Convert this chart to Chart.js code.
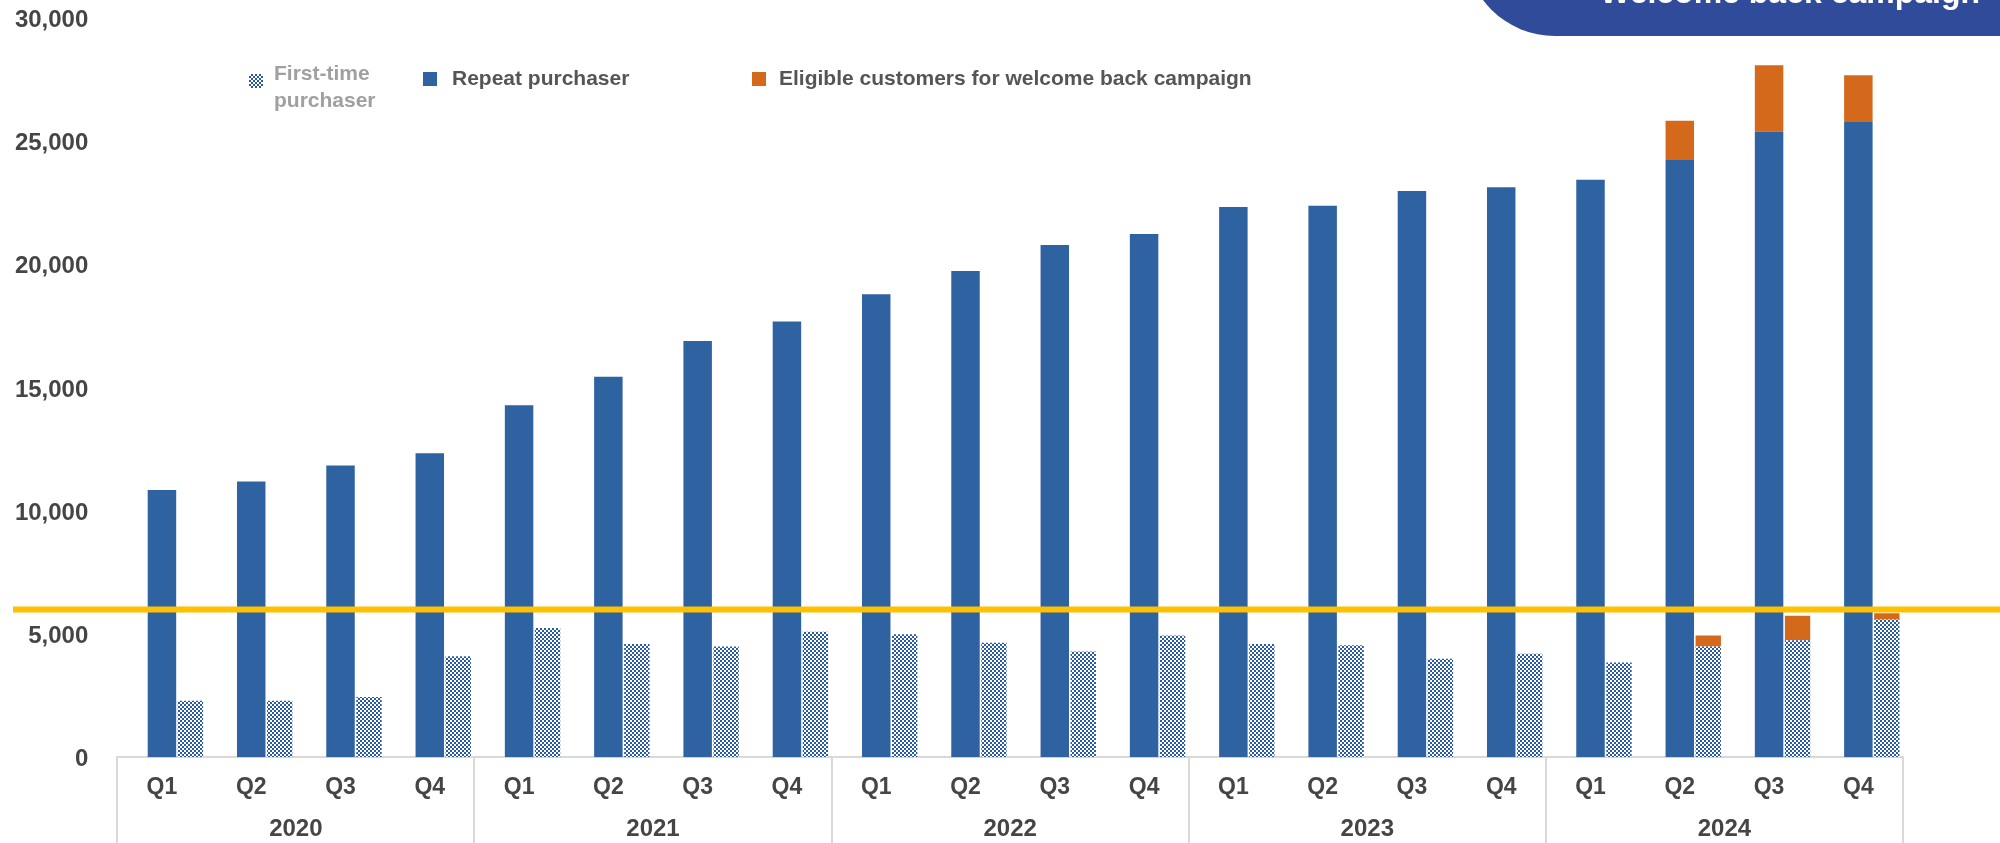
<!DOCTYPE html>
<html>
<head>
<meta charset="utf-8">
<title>Purchasers by quarter</title>
<script src="https://cdn.jsdelivr.net/npm/chart.js@4.4.1/dist/chart.umd.min.js"></script>
<style>
    body { margin: 0; background: #fff; }
    #wrap { position: relative; width: 2000px; height: 843px; overflow: hidden; font-family: "Liberation Sans", Arial, sans-serif; }
    #wrap canvas { position: absolute; left: 0; top: 0; }
    .badge { position: absolute; left: 1465px; top: -54px; width: 535px; height: 90px; background: #314b9b; border-bottom-left-radius: 90px; }
    .badge span { position: absolute; right: 20px; top: 30px; font-size: 32px; line-height: 1; font-weight: bold; color: #fff; white-space: nowrap; }
    .swatch { position: absolute; width: 14px; height: 14px; }
    .item { position: absolute; font-size: 21px; line-height: 24px; font-weight: bold; color: #555; white-space: nowrap; }
</style>
</head>
<body>
<div id="wrap">
    <canvas id="purchasers" width="2000" height="843"></canvas>
    <div class="badge"><span>Welcome back campaign</span></div>

    <div class="swatch" style="left:249px;top:74px;background:repeating-conic-gradient(#2a5aa5 0 25%, #fff 0 50%) 0 0/4px 4px;"></div>
    <div class="item" style="left:274px;top:59px;line-height:27px;color:#a0a0a0;">First-time<br>purchaser</div>

    <div class="swatch" style="left:423px;top:72px;background:#2e62a1;"></div>
    <div class="item" style="left:452px;top:66px;">Repeat purchaser</div>

    <div class="swatch" style="left:752px;top:72px;background:#d4691b;"></div>
    <div class="item" style="left:779px;top:66px;">Eligible customers for welcome back campaign</div>
</div>

<script>
const years = ['2020', '2021', '2022', '2023', '2024'];
const quarters = ['Q1', 'Q2', 'Q3', 'Q4'];

const repeatPurchasers = [10850, 11200, 11850, 12350, 14300, 15450, 16900, 17700, 18800, 19750,
                          20800, 21250, 22350, 22400, 23000, 23150, 23450, 24250, 25400, 25800];
const eligibleRepeat = [null, null, null, null, null, null, null, null, null, null,
                        null, null, null, null, null, null, null, 1600, 2700, 1900];

const firstTimePurchasers = [2300, 2300, 2450, 4100, 5250, 4600, 4500, 5100, 5000, 4650,
                             4300, 4950, 4600, 4550, 4000, 4200, 3850, 4500, 4750, 5600];
const eligibleFirstTime = [null, null, null, null, null, null, null, null, null, null,
                           null, null, null, null, null, null, null, 450, 1000, 250];

const targetLine = 6000;

const BLUE = '#2e62a1';
const ORANGE = '#d4691b';
const YELLOW = '#ffc000';
const AXIS_GREY = '#d9d9d9';
const LABEL_GREY = '#454545';

// one label per quarter, years go on the second axis
const labels = [];
years.forEach(y => quarters.forEach(q => labels.push(q)));

// small checkerboard fill for first-time purchasers
function checkerPattern() {
    const c = document.createElement('canvas');
    c.width = 4;
    c.height = 4;
    const g = c.getContext('2d');
    g.fillStyle = '#fff';
    g.fillRect(0, 0, 4, 4);
    g.fillStyle = '#2a5aa5';
    g.fillRect(0, 0, 2, 2);
    g.fillRect(2, 2, 2, 2);
    return g.createPattern(c, 'repeat');
}

// year boxes under the axis and the yellow target line
const extras = {
    id: 'extras',
    afterDatasetsDraw(chart) {
        const {ctx, scales: {y}} = chart;
        const py = y.getPixelForValue(targetLine);
        ctx.save();
        ctx.strokeStyle = YELLOW;
        ctx.lineWidth = 6;
        ctx.beginPath();
        ctx.moveTo(13, py);
        ctx.lineTo(chart.width, py);
        ctx.stroke();
        ctx.restore();
    },
    afterDraw(chart) {
        const {ctx, chartArea, scales: {x}} = chart;
        ctx.save();
        ctx.strokeStyle = AXIS_GREY;
        ctx.lineWidth = 2;
        for (let i = 0; i <= years.length; i++) {
            const px = Math.round(x.left + i * x.width / years.length);
            ctx.beginPath();
            ctx.moveTo(px, chartArea.bottom);
            ctx.lineTo(px, chart.height);
            ctx.stroke();
        }
        ctx.restore();
    }
};

Chart.defaults.font.family = '"Liberation Sans", Arial, sans-serif';
Chart.defaults.font.weight = 'bold';

const ctx = document.getElementById('purchasers').getContext('2d');
const purchasersChart = new Chart(ctx, {
    type: 'bar',
    data: {
        labels: labels,
        datasets: [{
            // empty slot on the left so the repeat bar sits on the category centre
            label: '',
            data: labels.map(() => null),
            stack: 'pad',
            backgroundColor: 'rgba(0,0,0,0)'
        }, {
            label: 'Repeat purchaser',
            data: repeatPurchasers,
            stack: 'repeat',
            backgroundColor: BLUE,
            barPercentage: 1.0
        }, {
            label: 'Eligible customers for welcome back campaign',
            data: eligibleRepeat,
            stack: 'repeat',
            backgroundColor: ORANGE,
            barPercentage: 1.0
        }, {
            label: 'First-time purchaser',
            data: firstTimePurchasers,
            stack: 'first',
            backgroundColor: checkerPattern(),
            barPercentage: 0.89
        }, {
            label: 'Eligible customers for welcome back campaign',
            data: eligibleFirstTime,
            stack: 'first',
            backgroundColor: ORANGE,
            barPercentage: 0.89
        }]
    },
    options: {
        responsive: false,
        animation: false,
        layout: {
            padding: { top: 18.5, right: 97, bottom: 0, left: 0 }
        },
        datasets: {
            bar: { categoryPercentage: 0.957, borderWidth: 0 }
        },
        plugins: {
            legend: { display: false },
            tooltip: { enabled: false }
        },
        scales: {
            x: {
                stacked: true,
                weight: 0,
                grid: { display: false, drawTicks: false },
                border: { display: true, color: AXIS_GREY, width: 2 },
                ticks: { color: LABEL_GREY, font: { size: 23, weight: 'bold' }, padding: 16.8, maxRotation: 0, autoSkip: false },
                afterFit: s => { s.height = 43; }
            },
            x2: {
                type: 'category',
                labels: years,
                position: 'bottom',
                offset: true,
                weight: 1,
                grid: { display: false, drawTicks: false },
                border: { display: false },
                ticks: { color: LABEL_GREY, font: { size: 24, weight: 'bold' }, padding: 14.6, maxRotation: 0 },
                afterFit: s => { s.height = 42.7; }
            },
            y: {
                stacked: true,
                min: 0,
                max: 30000,
                grid: { display: false, drawTicks: false },
                border: { display: false },
                ticks: {
                    stepSize: 5000,
                    color: LABEL_GREY,
                    font: { size: 24, weight: 'bold' },
                    padding: 29,
                    labelOffset: 2,
                    callback: v => v.toLocaleString('en-US')
                },
                afterFit: s => {
                    s.width = 117.3;
                    s.paddingTop = 0;
                    s.paddingBottom = 0;
                }
            }
        }
    },
    plugins: [extras]
});
</script>
</body>
</html>
